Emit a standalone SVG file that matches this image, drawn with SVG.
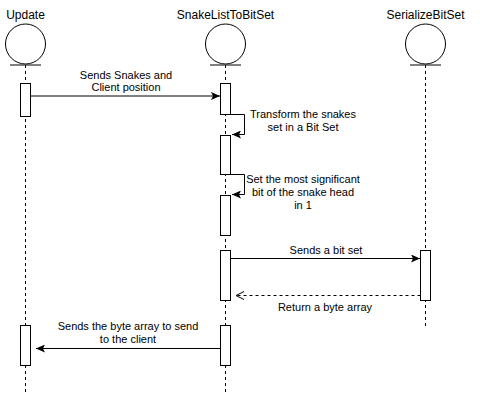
<svg xmlns="http://www.w3.org/2000/svg" width="491" height="401" viewBox="0 0 491 401">
<style>
.t{font-family:"Liberation Sans",Arial,sans-serif;font-size:11px;fill:#000;text-anchor:middle}
.h{font-family:"Liberation Sans",Arial,sans-serif;font-size:12px;fill:#000;text-anchor:middle}
.life{stroke:#000;stroke-width:1;stroke-dasharray:3 3;fill:none}
.bar{fill:#fff;stroke:#000;stroke-width:1}
.msg{stroke:#000;stroke-width:1;fill:none}
.ret{stroke:#000;stroke-width:1;fill:none;stroke-dasharray:3 3}
</style>
<defs>
<marker id="ah" markerWidth="10" markerHeight="8" refX="9" refY="4" orient="auto" markerUnits="userSpaceOnUse">
<path d="M0,0 L9,4 L0,8 L2,4 Z" fill="#000"/>
</marker>
<marker id="oa" markerWidth="10" markerHeight="10" refX="9" refY="5" orient="auto" markerUnits="userSpaceOnUse">
<path d="M1,1 L9,5 L1,9" fill="none" stroke="#000"/>
</marker>
</defs>
<rect width="491" height="401" fill="#fff"/>
<g id="update">
<text class="h" x="25.5" y="19">Update</text>
<circle cx="25.5" cy="44" r="20" fill="#fff" stroke="#000"/>
<line x1="10" y1="65" x2="41" y2="65" stroke="#000"/>
<line class="life" x1="25.5" y1="65" x2="25.5" y2="392"/>
<rect class="bar" x="20.5" y="83.5" width="10" height="33"/>
<rect class="bar" x="20.5" y="325.5" width="10" height="40"/>
</g>
<g id="snakelist">
<text class="h" x="225.5" y="19">SnakeListToBitSet</text>
<circle cx="225.5" cy="44" r="20" fill="#fff" stroke="#000"/>
<line x1="210" y1="65" x2="241" y2="65" stroke="#000"/>
<line class="life" x1="225.5" y1="65" x2="225.5" y2="392"/>
<rect class="bar" x="220.5" y="83.5" width="10" height="31"/>
<rect class="bar" x="220.5" y="135.5" width="10" height="39"/>
<rect class="bar" x="220.5" y="195.5" width="10" height="40"/>
<rect class="bar" x="220.5" y="250.5" width="10" height="50"/>
<rect class="bar" x="220.5" y="325.5" width="10" height="40"/>
</g>
<g id="serialize">
<text class="h" x="425.5" y="19">SerializeBitSet</text>
<circle cx="425.5" cy="44" r="20" fill="#fff" stroke="#000"/>
<line x1="410" y1="65" x2="441" y2="65" stroke="#000"/>
<line class="life" x1="425.5" y1="65" x2="425.5" y2="326"/>
<rect class="bar" x="420.5" y="250.5" width="10" height="50"/>
</g>
<g id="connectors">
<line class="msg" x1="30.5" y1="96" x2="220" y2="96" marker-end="url(#ah)"/>
<text class="t" x="126" y="79">Sends Snakes and</text>
<text class="t" x="126" y="91">Client position</text>
<polyline class="msg" points="230.5,114.5 244.5,114.5 244.5,134.5 232,134.5" marker-end="url(#ah)"/>
<text class="t" x="303" y="118">Transform the snakes</text>
<text class="t" x="303" y="131">set in a Bit Set</text>
<polyline class="msg" points="230.5,174.5 244.5,174.5 244.5,194.5 232,194.5" marker-end="url(#ah)"/>
<text class="t" x="303" y="183">Set the most significant</text>
<text class="t" x="303" y="196">bit of the snake head</text>
<text class="t" x="303" y="209">in 1</text>
<line class="msg" x1="230.5" y1="258.5" x2="420" y2="258.5" marker-end="url(#ah)"/>
<text class="t" x="326" y="254">Sends a bit set</text>
<line class="ret" x1="420.5" y1="295.5" x2="236" y2="295.5" marker-end="url(#oa)"/>
<text class="t" x="325" y="311">Return a byte array</text>
<line class="msg" x1="220.5" y1="348.5" x2="36" y2="348.5" marker-end="url(#ah)"/>
<text class="t" x="128" y="330">Sends the byte array to send</text>
<text class="t" x="128" y="343">to the client</text>
</g>
</svg>
